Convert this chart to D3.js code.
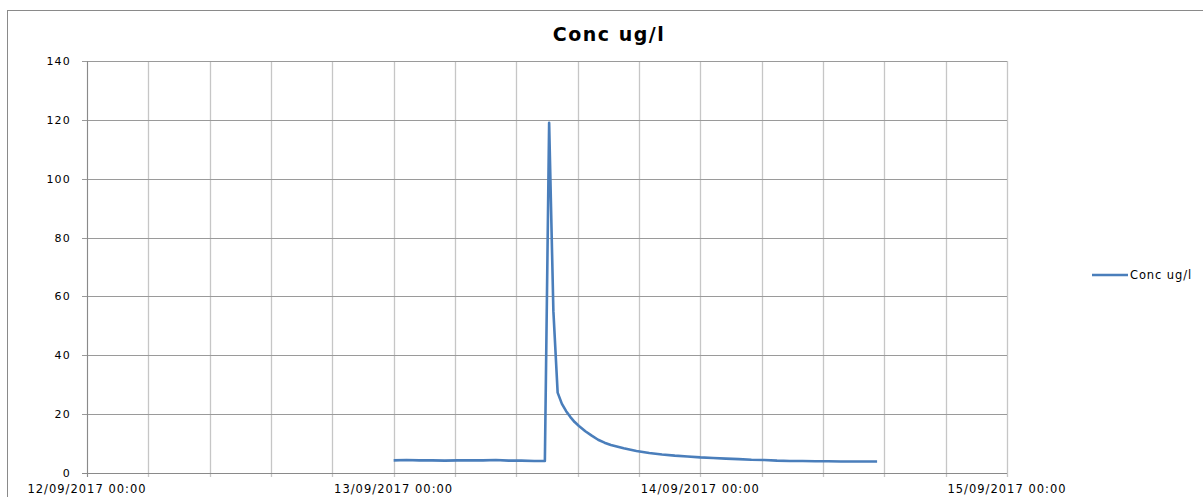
<!DOCTYPE html>
<html>
<head>
<meta charset="utf-8">
<script src="https://cdn.jsdelivr.net/npm/d3@7"></script>
<style>
  body { margin: 0; background: #fff; }
  svg { display: block; font-family: "DejaVu Sans", sans-serif; }
</style>
</head>
<body>
<svg id="chart" width="1203" height="497"></svg>
<script>
// --- Data ---
const seriesName = "Conc ug/l";
const times = [
  "2017-09-13 00:00", "2017-09-13 01:00", "2017-09-13 02:00", "2017-09-13 03:00",
  "2017-09-13 04:00", "2017-09-13 05:00", "2017-09-13 06:00", "2017-09-13 07:00",
  "2017-09-13 08:00", "2017-09-13 09:00", "2017-09-13 10:00", "2017-09-13 11:00",
  "2017-09-13 11:50", "2017-09-13 12:10", "2017-09-13 12:30", "2017-09-13 12:50",
  "2017-09-13 13:10", "2017-09-13 13:30", "2017-09-13 13:50", "2017-09-13 14:10",
  "2017-09-13 14:30", "2017-09-13 15:00", "2017-09-13 15:30", "2017-09-13 16:00",
  "2017-09-13 16:30", "2017-09-13 17:00", "2017-09-13 18:00", "2017-09-13 19:00",
  "2017-09-13 20:00", "2017-09-13 21:00", "2017-09-13 22:00", "2017-09-13 23:00",
  "2017-09-14 00:00", "2017-09-14 01:00", "2017-09-14 02:00", "2017-09-14 03:00",
  "2017-09-14 04:00", "2017-09-14 05:00", "2017-09-14 06:00", "2017-09-14 07:00",
  "2017-09-14 08:00", "2017-09-14 09:00", "2017-09-14 10:00", "2017-09-14 11:00",
  "2017-09-14 12:00", "2017-09-14 13:00", "2017-09-14 13:50"
];
const concValues = [
  4.3, 4.4, 4.3, 4.3, 4.2, 4.3, 4.3, 4.3, 4.4, 4.2, 4.2, 4.1,
  4.1, 119, 55, 27.3, 23.5, 21, 19, 17.3,
  16, 14.2, 12.7, 11.3, 10.3, 9.5, 8.4, 7.5, 6.8, 6.3, 5.9, 5.6,
  5.3, 5.1, 4.9, 4.7, 4.5, 4.4, 4.2, 4.1, 4.1, 4.0, 4.0, 3.9,
  3.9, 3.9, 3.9
];
const yTicks = [0, 20, 40, 60, 80, 100, 120, 140];
const xLabelDates = ["2017-09-12", "2017-09-13", "2017-09-14", "2017-09-15"];
const xLabels = ["12/09/2017 00:00", "13/09/2017 00:00", "14/09/2017 00:00", "15/09/2017 00:00"];
const gridStepDays = 0.2; // Excel major unit

// --- Setup ---
const svg = d3.select("#chart");
const parseTime = d3.utcParse("%Y-%m-%d %H:%M");
const parseDay = d3.utcParse("%Y-%m-%d");
const points = times.map((t, i) => ({ t: parseTime(t), v: concValues[i] }));

const plot = { left: 87, right: 1007, top: 61, bottom: 473 };
const xStart = parseDay(xLabelDates[0]);
const xEnd = parseDay(xLabelDates[xLabelDates.length - 1]);

const x = d3.scaleUtc().domain([xStart, xEnd]).range([plot.left, plot.right]);
const y = d3.scaleLinear().domain([0, 140]).range([plot.bottom, plot.top]);

const DAY = 86400000;
const nGrid = Math.round((xEnd - xStart) / (gridStepDays * DAY));
const gridTimes = d3.range(nGrid + 1).map(i => new Date(xStart.getTime() + i * gridStepDays * DAY));

// chart border
svg.append("rect")
  .attr("x", 7.5).attr("y", 10.5)
  .attr("width", 1200).attr("height", 500)
  .attr("fill", "#fff").attr("stroke", "#8a8a8a").attr("stroke-width", 1);

// --- Grid ---
svg.append("g").selectAll("line")
  .data(gridTimes)
  .join("line")
  .attr("x1", d => Math.round(x(d)) + 0.5).attr("x2", d => Math.round(x(d)) + 0.5)
  .attr("y1", plot.top).attr("y2", plot.bottom + 4)
  .attr("stroke", "#c6c6c6").attr("stroke-width", 1.3);

svg.append("g").selectAll("line")
  .data(yTicks)
  .join("line")
  .attr("x1", plot.left - 5).attr("x2", plot.right)
  .attr("y1", d => Math.round(y(d)) + 0.5).attr("y2", d => Math.round(y(d)) + 0.5)
  .attr("stroke", d => d === 0 ? "#8a8a8a" : "#9a9a9a").attr("stroke-width", 1);

// y axis line
svg.append("line")
  .attr("x1", plot.left + 0.5).attr("x2", plot.left + 0.5)
  .attr("y1", plot.top).attr("y2", plot.bottom + 4)
  .attr("stroke", "#8a8a8a");

// --- Axis labels ---
svg.append("g").selectAll("text")
  .data(yTicks)
  .join("text")
  .attr("x", 71).attr("y", d => y(d) + 4)
  .attr("text-anchor", "end")
  .attr("font-size", 11).attr("letter-spacing", 1.2)
  .attr("fill", "#000")
  .text(d => d);

svg.append("g").selectAll("text")
  .data(xLabelDates)
  .join("text")
  .attr("x", d => x(parseDay(d)))
  .attr("y", 493)
  .attr("text-anchor", "middle")
  .attr("font-size", 11.5).attr("letter-spacing", 1)
  .attr("fill", "#000")
  .text((d, i) => xLabels[i]);

// --- Series ---
const line = d3.line().x(d => x(d.t)).y(d => y(d.v));
svg.append("path")
  .datum(points)
  .attr("fill", "none")
  .attr("stroke", "#4a7ebb")
  .attr("stroke-width", 2.6)
  .attr("stroke-linejoin", "round")
  .attr("d", line);

// --- Title ---
svg.append("text")
  .attr("x", 609).attr("y", 41)
  .attr("text-anchor", "middle")
  .attr("font-size", 19).attr("font-weight", "bold").attr("letter-spacing", 1.5)
  .attr("fill", "#000")
  .text(seriesName);

// --- Legend ---
const legend = svg.append("g").attr("transform", "translate(1092,275)");
legend.append("line")
  .attr("x1", 0).attr("x2", 36).attr("y1", 0).attr("y2", 0)
  .attr("stroke", "#4a7ebb").attr("stroke-width", 2.6);
legend.append("text")
  .attr("x", 38).attr("y", 4)
  .attr("font-size", 11.5).attr("letter-spacing", 0.9)
  .attr("fill", "#000")
  .text(seriesName);
</script>
</body>
</html>
